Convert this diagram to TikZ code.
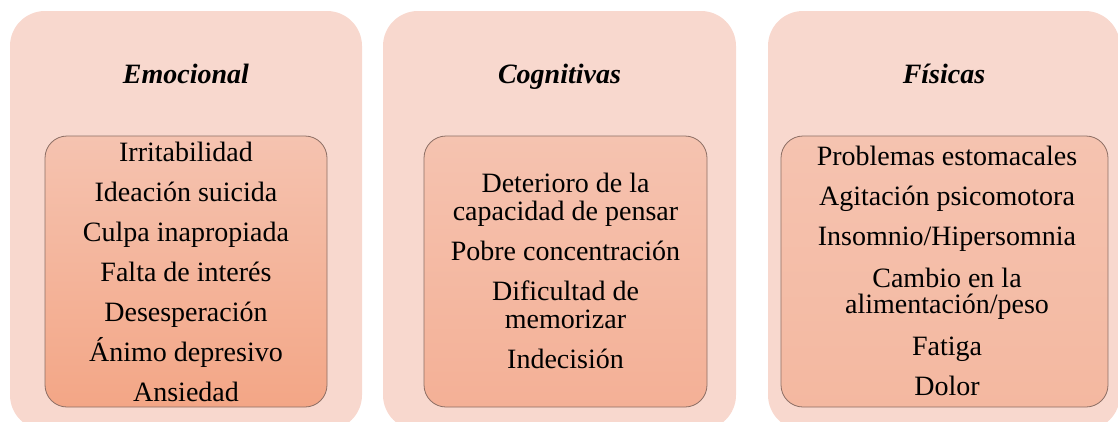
\documentclass[tikz,border=0pt]{standalone}
\usepackage{fontspec}
\setmainfont{Liberation Serif}
\definecolor{outerfill}{HTML}{F8D8CE}
\definecolor{innertop}{HTML}{F5C3B0}
\definecolor{innerbotA}{HTML}{F3A686}
\definecolor{innerbotB}{HTML}{F4B096}
\definecolor{innerbotC}{HTML}{F4B8A0}
\definecolor{innerline}{HTML}{8C6E64}
\tikzset{
  outerbox/.style={rectangle, rounded corners=35pt, fill=outerfill, draw=none, inner sep=0pt},
  innerbox/.style={rectangle, rounded corners=22pt, draw=innerline, line width=0.8pt, inner sep=0pt, top color=innertop},
  titletext/.style={anchor=base, inner sep=0pt, font=\fontsize{28}{28}\selectfont\bfseries\itshape},
  itemtext/.style={anchor=base, inner sep=0pt, font=\fontsize{28}{28}\selectfont}
}
\begin{document}
\begin{tikzpicture}[x=1pt,y=-1pt]
\useasboundingbox (0,0) rectangle (1118,421);
\clip (0,0) rectangle (1118,421);
% outer boxes
\node[outerbox, minimum width=352pt, minimum height=419pt] (o1) at (186,220.5) {};
\node[outerbox, minimum width=353pt, minimum height=419pt] (o2) at (559.5,220.5) {};
\node[outerbox, minimum width=352pt, minimum height=419pt] (o3) at (944,220.5) {};
% inner boxes
\node[innerbox, bottom color=innerbotA, minimum width=282pt, minimum height=271pt] (i1) at (186,271.5) {};
\node[innerbox, bottom color=innerbotB, minimum width=283pt, minimum height=271pt] (i2) at (565.5,271.5) {};
\node[innerbox, bottom color=innerbotC, minimum width=327pt, minimum height=271pt] (i3) at (944.5,271.5) {};
% titles
\node[titletext] (t1) at (186,83) {Emocional};
\node[titletext] (t2) at (559.5,83) {Cognitivas};
\node[titletext] (t3) at (944,83) {Físicas};
% Emocional items
\node[itemtext] (e1) at (186,161) {Irritabilidad};
\node[itemtext] (e2) at (186,201) {Ideación suicida};
\node[itemtext] (e3) at (186,241) {Culpa inapropiada};
\node[itemtext] (e4) at (186,281) {Falta de interés};
\node[itemtext] (e5) at (186,321) {Desesperación};
\node[itemtext] (e6) at (186,361) {Ánimo depresivo};
\node[itemtext] (e7) at (186,401) {Ansiedad};
% Cognitivas items
\node[itemtext] (c1) at (565.5,192) {Deterioro de la};
\node[itemtext] (c2) at (565.5,220) {capacidad de pensar};
\node[itemtext] (c3) at (565.5,260) {Pobre concentración};
\node[itemtext] (c4) at (565.5,300) {Dificultad de};
\node[itemtext] (c5) at (565.5,328) {memorizar};
\node[itemtext] (c6) at (565.5,368) {Indecisión};
% Fisicas items
\node[itemtext] (f1) at (947,165) {Problemas estomacales};
\node[itemtext] (f2) at (947,205) {Agitación psicomotora};
\node[itemtext] (f3) at (947,245) {Insomnio/Hipersomnia};
\node[itemtext] (f4) at (947,287) {Cambio en la};
\node[itemtext] (f5) at (947,313) {alimentación/peso};
\node[itemtext] (f6) at (947,355) {Fatiga};
\node[itemtext] (f7) at (947,395) {Dolor};
\end{tikzpicture}
\end{document}
